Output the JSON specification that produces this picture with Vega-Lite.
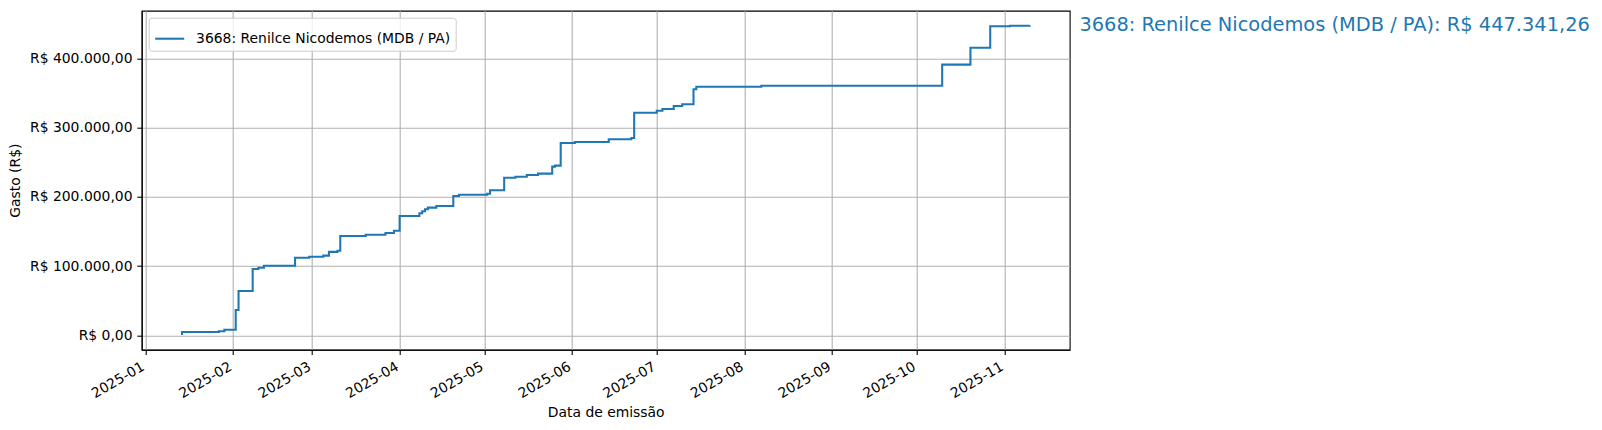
{
  "$schema": "https://vega.github.io/schema/vega-lite/v6.json",
  "width": 928,
  "height": 339,
  "autosize": {"type": "none"},
  "padding": {"left": 141.7, "top": 10.7, "right": 532.3, "bottom": 80.3},
  "background": "white",
  "config": {
    "font": "DejaVu Sans",
    "locale": {"number": {"decimal": ",", "thousands": ".", "grouping": [3], "currency": ["R$ ", ""]}},
    "view": {"stroke": "black", "strokeWidth": 1.1},
    "axis": {
      "domainColor": "black", "domainWidth": 1.1,
      "tickColor": "black", "tickWidth": 1.1, "tickSize": 4.86,
      "labelPadding": 4.86, "labelFontSize": 13.9, "labelColor": "black", "labelFont": "DejaVu Sans",
      "titleFontSize": 13.9, "titleFontWeight": "normal", "titleColor": "black", "titleFont": "DejaVu Sans",
      "gridColor": "#b0b0b0", "gridWidth": 1.1, "gridOpacity": 1
    },
    "legend": {
      "orient": "top-left", "offset": 7, "padding": 5,
      "strokeColor": "#cccccc", "fillColor": "rgba(255,255,255,0.8)", "cornerRadius": 2.8,
      "labelFontSize": 13.9, "labelColor": "black", "labelFont": "DejaVu Sans", "labelLimit": 0,
      "labelOffset": 10.4, "symbolType": "stroke", "symbolStrokeWidth": 2.08, "symbolSize": 841
    }
  },
  "data": {"values": [
    {"date": "2025-01-14", "value": 500, "series": "3668: Renilce Nicodemos (MDB / PA)"},
    {"date": "2025-01-14", "value": 4800, "series": "3668: Renilce Nicodemos (MDB / PA)"},
    {"date": "2025-01-27", "value": 5900, "series": "3668: Renilce Nicodemos (MDB / PA)"},
    {"date": "2025-01-29", "value": 7900, "series": "3668: Renilce Nicodemos (MDB / PA)"},
    {"date": "2025-02-02", "value": 36500, "series": "3668: Renilce Nicodemos (MDB / PA)"},
    {"date": "2025-02-03", "value": 58600, "series": "3668: Renilce Nicodemos (MDB / PA)"},
    {"date": "2025-02-03", "value": 64000, "series": "3668: Renilce Nicodemos (MDB / PA)"},
    {"date": "2025-02-08", "value": 95700, "series": "3668: Renilce Nicodemos (MDB / PA)"},
    {"date": "2025-02-10", "value": 97600, "series": "3668: Renilce Nicodemos (MDB / PA)"},
    {"date": "2025-02-12", "value": 100500, "series": "3668: Renilce Nicodemos (MDB / PA)"},
    {"date": "2025-02-23", "value": 112000, "series": "3668: Renilce Nicodemos (MDB / PA)"},
    {"date": "2025-02-28", "value": 113500, "series": "3668: Renilce Nicodemos (MDB / PA)"},
    {"date": "2025-03-05", "value": 115000, "series": "3668: Renilce Nicodemos (MDB / PA)"},
    {"date": "2025-03-07", "value": 120500, "series": "3668: Renilce Nicodemos (MDB / PA)"},
    {"date": "2025-03-10", "value": 122000, "series": "3668: Renilce Nicodemos (MDB / PA)"},
    {"date": "2025-03-11", "value": 143400, "series": "3668: Renilce Nicodemos (MDB / PA)"},
    {"date": "2025-03-20", "value": 145300, "series": "3668: Renilce Nicodemos (MDB / PA)"},
    {"date": "2025-03-27", "value": 147700, "series": "3668: Renilce Nicodemos (MDB / PA)"},
    {"date": "2025-03-30", "value": 151000, "series": "3668: Renilce Nicodemos (MDB / PA)"},
    {"date": "2025-04-01", "value": 172300, "series": "3668: Renilce Nicodemos (MDB / PA)"},
    {"date": "2025-04-08", "value": 176200, "series": "3668: Renilce Nicodemos (MDB / PA)"},
    {"date": "2025-04-09", "value": 179000, "series": "3668: Renilce Nicodemos (MDB / PA)"},
    {"date": "2025-04-10", "value": 182000, "series": "3668: Renilce Nicodemos (MDB / PA)"},
    {"date": "2025-04-11", "value": 184300, "series": "3668: Renilce Nicodemos (MDB / PA)"},
    {"date": "2025-04-14", "value": 186700, "series": "3668: Renilce Nicodemos (MDB / PA)"},
    {"date": "2025-04-20", "value": 201200, "series": "3668: Renilce Nicodemos (MDB / PA)"},
    {"date": "2025-04-22", "value": 203000, "series": "3668: Renilce Nicodemos (MDB / PA)"},
    {"date": "2025-05-02", "value": 204500, "series": "3668: Renilce Nicodemos (MDB / PA)"},
    {"date": "2025-05-03", "value": 209400, "series": "3668: Renilce Nicodemos (MDB / PA)"},
    {"date": "2025-05-08", "value": 227600, "series": "3668: Renilce Nicodemos (MDB / PA)"},
    {"date": "2025-05-12", "value": 229000, "series": "3668: Renilce Nicodemos (MDB / PA)"},
    {"date": "2025-05-16", "value": 231500, "series": "3668: Renilce Nicodemos (MDB / PA)"},
    {"date": "2025-05-20", "value": 233400, "series": "3668: Renilce Nicodemos (MDB / PA)"},
    {"date": "2025-05-25", "value": 243500, "series": "3668: Renilce Nicodemos (MDB / PA)"},
    {"date": "2025-05-26", "value": 245000, "series": "3668: Renilce Nicodemos (MDB / PA)"},
    {"date": "2025-05-28", "value": 277700, "series": "3668: Renilce Nicodemos (MDB / PA)"},
    {"date": "2025-06-02", "value": 279100, "series": "3668: Renilce Nicodemos (MDB / PA)"},
    {"date": "2025-06-14", "value": 283000, "series": "3668: Renilce Nicodemos (MDB / PA)"},
    {"date": "2025-06-22", "value": 285000, "series": "3668: Renilce Nicodemos (MDB / PA)"},
    {"date": "2025-06-23", "value": 311000, "series": "3668: Renilce Nicodemos (MDB / PA)"},
    {"date": "2025-06-23", "value": 321400, "series": "3668: Renilce Nicodemos (MDB / PA)"},
    {"date": "2025-07-01", "value": 324300, "series": "3668: Renilce Nicodemos (MDB / PA)"},
    {"date": "2025-07-03", "value": 326800, "series": "3668: Renilce Nicodemos (MDB / PA)"},
    {"date": "2025-07-07", "value": 331100, "series": "3668: Renilce Nicodemos (MDB / PA)"},
    {"date": "2025-07-10", "value": 333600, "series": "3668: Renilce Nicodemos (MDB / PA)"},
    {"date": "2025-07-14", "value": 355200, "series": "3668: Renilce Nicodemos (MDB / PA)"},
    {"date": "2025-07-15", "value": 359000, "series": "3668: Renilce Nicodemos (MDB / PA)"},
    {"date": "2025-08-07", "value": 360400, "series": "3668: Renilce Nicodemos (MDB / PA)"},
    {"date": "2025-10-10", "value": 390800, "series": "3668: Renilce Nicodemos (MDB / PA)"},
    {"date": "2025-10-20", "value": 415300, "series": "3668: Renilce Nicodemos (MDB / PA)"},
    {"date": "2025-10-27", "value": 446300, "series": "3668: Renilce Nicodemos (MDB / PA)"},
    {"date": "2025-11-03", "value": 447000, "series": "3668: Renilce Nicodemos (MDB / PA)"},
    {"date": "2025-11-10", "value": 447341.26, "series": "3668: Renilce Nicodemos (MDB / PA)", "label": "3668: Renilce Nicodemos (MDB / PA): R$ 447.341,26"}
  ]},
  "encoding": {
    "x": {
      "field": "date", "type": "temporal",
      "scale": {"type": "utc", "domain": [
        {"year": 2024, "month": 12, "date": 30, "hours": 17, "minutes": 30, "utc": true},
        {"year": 2025, "month": 11, "date": 24, "hours": 3, "utc": true}
      ], "nice": false},
      "axis": {
        "title": "Data de emissão", "format": "%Y-%m",
        "tickCount": {"interval": "month", "step": 1},
        "labelAngle": -30, "labelAlign": "right", "labelBaseline": "top", "labelOffset": -6,
        "titlePadding": 5.5, "grid": true
      }
    },
    "y": {
      "field": "value", "type": "quantitative",
      "scale": {"domain": [-20800, 468700], "nice": false, "zero": false},
      "axis": {
        "title": "Gasto (R$)", "format": "$,.2f",
        "values": [0, 100000, 200000, 300000, 400000],
        "titlePadding": 7.5, "grid": true
      }
    }
  },
  "layer": [
    {
      "mark": {"type": "line", "interpolate": "step-after", "strokeWidth": 2.08, "clip": true},
      "encoding": {
        "color": {
          "field": "series", "type": "nominal",
          "scale": {"domain": ["3668: Renilce Nicodemos (MDB / PA)"], "range": ["#1f77b4"]},
          "legend": {"title": null}
        }
      }
    },
    {
      "transform": [{"filter": "isValid(datum.label)"}],
      "mark": {"type": "text", "align": "left", "baseline": "middle", "dx": 49.6, "fontSize": 19.4, "color": "#1f77b4", "font": "DejaVu Sans"},
      "encoding": {"text": {"field": "label"}}
    }
  ]
}
